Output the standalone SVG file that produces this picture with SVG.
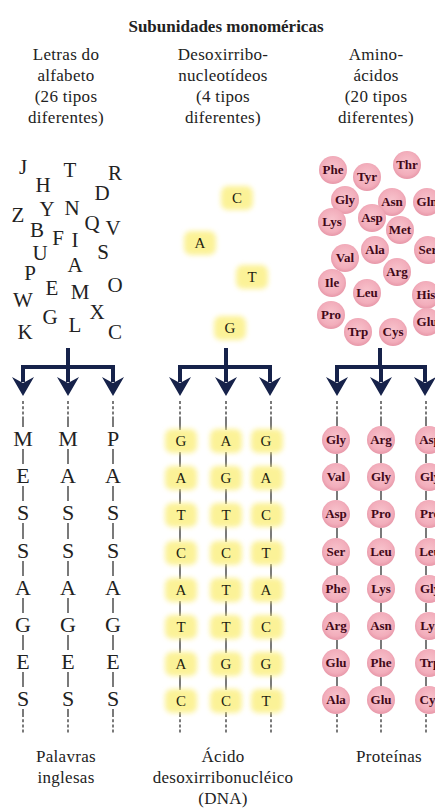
<svg xmlns="http://www.w3.org/2000/svg" width="435" height="808" viewBox="0 0 435 808">
  <style>
    .t { font-family: "Liberation Serif", "DejaVu Serif", serif; fill: #222; }
    .title { font-size: 17px; font-weight: bold; text-anchor: middle; }
    .hdr { font-size: 17px; text-anchor: middle; letter-spacing: 0.3px; }
    .big { font-size: 21px; text-anchor: middle; }
    .col { font-size: 22px; text-anchor: middle; }
    .nt { font-size: 15px; text-anchor: middle; fill: #1e1e10; }
    .aa { font-family: "Liberation Serif", "DejaVu Serif", serif; font-size: 13px; font-weight: bold; text-anchor: middle; fill: #420818; }
    .glow { fill: #fbef7e; opacity: 0.8; filter: url(#soft); }
    .bead { fill: url(#pink); }
    .link { stroke: #333; stroke-width: 1.3; fill: none; }
    .dash { stroke: #333; stroke-width: 1.3; fill: none; stroke-dasharray: 3 2.2; }
    .tree { stroke: #16224a; stroke-width: 4; fill: none; }
    .head { fill: #16224a; }
  </style>
  <defs>
    <filter id="soft" x="-40%" y="-40%" width="180%" height="180%">
      <feGaussianBlur stdDeviation="2.4"/>
    </filter>
    <radialGradient id="pink" cx="50%" cy="45%" r="55%">
      <stop offset="0" stop-color="#f8c4cd"/>
      <stop offset="0.75" stop-color="#f2adbb"/>
      <stop offset="1" stop-color="#e797a8"/>
    </radialGradient>
    <path id="arrowhead" d="M0,15 L-11,-4 L0,2 L11,-4 Z"/>
    <rect id="hl" x="-16" y="-12" width="32" height="24" rx="7"/>
  </defs>

  <rect width="435" height="808" fill="#ffffff"/>

  <!-- title -->
  <text class="t title" x="226" y="32">Subunidades monoméricas</text>

  <!-- column headings -->
  <g id="hdr-letras" class="t hdr">
    <text x="66" y="60">Letras do</text>
    <text x="66" y="81">alfabeto</text>
    <text x="66" y="102">(26 tipos</text>
    <text x="66" y="123">diferentes)</text>
  </g>
  <g id="hdr-nucleotideos" class="t hdr">
    <text x="223" y="60">Desoxirribo-</text>
    <text x="223" y="81">nucleotídeos</text>
    <text x="223" y="102">(4 tipos</text>
    <text x="223" y="123">diferentes)</text>
  </g>
  <g id="hdr-aminoacidos" class="t hdr">
    <text x="376" y="60">Amino-</text>
    <text x="376" y="81">ácidos</text>
    <text x="376" y="102">(20 tipos</text>
    <text x="376" y="123">diferentes)</text>
  </g>

  <!-- pool of letters -->
  <g id="letras-pool" class="t big">
    <text x="23" y="174">J</text>
    <text x="43" y="192">H</text>
    <text x="70" y="177">T</text>
    <text x="115" y="180">R</text>
    <text x="102" y="200">D</text>
    <text x="18" y="222">Z</text>
    <text x="47" y="216">Y</text>
    <text x="72" y="215">N</text>
    <text x="92" y="230">Q</text>
    <text x="113" y="235">V</text>
    <text x="37" y="237">B</text>
    <text x="58" y="245">F</text>
    <text x="75" y="247">I</text>
    <text x="40" y="260">U</text>
    <text x="103" y="259">S</text>
    <text x="75" y="272">A</text>
    <text x="30" y="280">P</text>
    <text x="52" y="295">E</text>
    <text x="80" y="299">M</text>
    <text x="115" y="292">O</text>
    <text x="23" y="307">W</text>
    <text x="97" y="319">X</text>
    <text x="50" y="324">G</text>
    <text x="75" y="332">L</text>
    <text x="25" y="339">K</text>
    <text x="115" y="339">C</text>
  </g>

  <!-- pool of nucleotides -->
  <g id="nucleotideos-pool">
    <use href="#hl" class="glow" x="237" y="198"/>
    <use href="#hl" class="glow" x="200" y="243"/>
    <use href="#hl" class="glow" x="252" y="277"/>
    <use href="#hl" class="glow" x="230" y="328"/>
    <g class="t nt">
      <text x="237" y="203">C</text>
      <text x="200" y="248">A</text>
      <text x="252" y="282">T</text>
      <text x="230" y="333">G</text>
    </g>
  </g>

  <!-- pool of amino acids -->
  <g id="aminoacidos-pool">
    <g class="bead">
      <circle cx="333" cy="170" r="14"/>
      <circle cx="367" cy="177" r="14"/>
      <circle cx="407" cy="165" r="14"/>
      <circle cx="345" cy="200" r="14"/>
      <circle cx="392" cy="202" r="14"/>
      <circle cx="427" cy="202" r="14"/>
      <circle cx="332" cy="222" r="14"/>
      <circle cx="372" cy="218" r="14"/>
      <circle cx="400" cy="230" r="14"/>
      <circle cx="375" cy="250" r="14"/>
      <circle cx="428" cy="250" r="14"/>
      <circle cx="345" cy="258" r="14"/>
      <circle cx="397" cy="272" r="14"/>
      <circle cx="332" cy="283" r="14"/>
      <circle cx="367" cy="293" r="14"/>
      <circle cx="426" cy="295" r="14"/>
      <circle cx="331" cy="315" r="14"/>
      <circle cx="358" cy="332" r="14"/>
      <circle cx="393" cy="332" r="14"/>
      <circle cx="427" cy="322" r="14"/>
    </g>
    <g class="aa">
      <text x="333" y="174">Phe</text>
      <text x="367" y="181">Tyr</text>
      <text x="407" y="169">Thr</text>
      <text x="345" y="204">Gly</text>
      <text x="392" y="206">Asn</text>
      <text x="427" y="206">Gln</text>
      <text x="332" y="226">Lys</text>
      <text x="372" y="222">Asp</text>
      <text x="400" y="234">Met</text>
      <text x="375" y="254">Ala</text>
      <text x="428" y="254">Ser</text>
      <text x="345" y="262">Val</text>
      <text x="397" y="276">Arg</text>
      <text x="332" y="287">Ile</text>
      <text x="367" y="297">Leu</text>
      <text x="426" y="299">His</text>
      <text x="331" y="319">Pro</text>
      <text x="358" y="336">Trp</text>
      <text x="393" y="336">Cys</text>
      <text x="427" y="326">Glu</text>
    </g>
  </g>

  <!-- branching arrows and chain links -->
  <g id="connectors">
    <path class="tree" d="M68,348 V367 M21,367 H115 M23,367 V382 M68,367 V382 M113,367 V382"/>
    <path class="tree" d="M226,348 V367 M178,367 H272 M180,367 V382 M226,367 V382 M270,367 V382"/>
    <path class="tree" d="M380,348 V367 M335,367 H427 M337,367 V382 M381,367 V382 M425,367 V382"/>
    <g class="head">
      <use href="#arrowhead" x="23" y="381"/>
      <use href="#arrowhead" x="68" y="381"/>
      <use href="#arrowhead" x="113" y="381"/>
      <use href="#arrowhead" x="180" y="381"/>
      <use href="#arrowhead" x="226" y="381"/>
      <use href="#arrowhead" x="270" y="381"/>
      <use href="#arrowhead" x="337" y="381"/>
      <use href="#arrowhead" x="381" y="381"/>
      <use href="#arrowhead" x="425" y="381"/>
    </g>
    <!-- open ends above and below each chain -->
    <path class="dash" d="M23,401 V418 M68,401 V418 M113,401 V418 M180,401 V418 M226,401 V418 M271,401 V418 M337,401 V418 M381,401 V418 M426,401 V418"/>
    <path class="dash" d="M23,714 V734 M68,714 V734 M113,714 V734 M180,714 V734 M226,714 V734 M271,714 V734 M337,714 V734 M381,714 V734 M426,714 V734"/>
    <!-- word chains -->
    <path class="link" d="M23,418 V427 M23,449 V464 M23,486 V501 M23,523 V539 M23,561 V576 M23,598 V613 M23,635 V650 M23,672 V687 M23,709 V714"/>
    <path class="link" d="M68,418 V427 M68,449 V464 M68,486 V501 M68,523 V539 M68,561 V576 M68,598 V613 M68,635 V650 M68,672 V687 M68,709 V714"/>
    <path class="link" d="M113,418 V427 M113,449 V464 M113,486 V501 M113,523 V539 M113,561 V576 M113,598 V613 M113,635 V650 M113,672 V687 M113,709 V714"/>
    <!-- DNA strands -->
    <path class="link" d="M180,418 V430 M180,452 V467 M180,489 V504 M180,526 V542 M180,564 V579 M180,601 V616 M180,638 V653 M180,675 V690 M180,712 V714"/>
    <path class="link" d="M226,418 V430 M226,452 V467 M226,489 V504 M226,526 V542 M226,564 V579 M226,601 V616 M226,638 V653 M226,675 V690 M226,712 V714"/>
    <path class="link" d="M271,418 V430 M271,452 V467 M271,489 V504 M271,526 V542 M271,564 V579 M271,601 V616 M271,638 V653 M271,675 V690 M271,712 V714"/>
    <!-- protein chains -->
    <path class="link" d="M337,418 V426 M337,454 V463 M337,491 V500 M337,528 V538 M337,566 V575 M337,603 V612 M337,640 V649 M337,677 V686"/>
    <path class="link" d="M381,418 V426 M381,454 V463 M381,491 V500 M381,528 V538 M381,566 V575 M381,603 V612 M381,640 V649 M381,677 V686"/>
    <path class="link" d="M426,418 V426 M426,454 V463 M426,491 V500 M426,528 V538 M426,566 V575 M426,603 V612 M426,640 V649 M426,677 V686"/>
  </g>

  <!-- English words -->
  <g id="palavras" class="t col">
    <text x="23" y="446">M</text><text x="68" y="446">M</text><text x="113" y="446">P</text>
    <text x="23" y="483">E</text><text x="68" y="483">A</text><text x="113" y="483">A</text>
    <text x="23" y="520">S</text><text x="68" y="520">S</text><text x="113" y="520">S</text>
    <text x="23" y="558">S</text><text x="68" y="558">S</text><text x="113" y="558">S</text>
    <text x="23" y="595">A</text><text x="68" y="595">A</text><text x="113" y="595">A</text>
    <text x="23" y="632">G</text><text x="68" y="632">G</text><text x="113" y="632">G</text>
    <text x="23" y="669">E</text><text x="68" y="669">E</text><text x="113" y="669">E</text>
    <text x="23" y="706">S</text><text x="68" y="706">S</text><text x="113" y="706">S</text>
  </g>

  <!-- DNA -->
  <g id="dna">
    <g class="glow">
      <use href="#hl" x="181" y="441"/><use href="#hl" x="226" y="441"/><use href="#hl" x="267" y="441"/>
      <use href="#hl" x="181" y="478"/><use href="#hl" x="226" y="478"/><use href="#hl" x="267" y="478"/>
      <use href="#hl" x="181" y="515"/><use href="#hl" x="226" y="515"/><use href="#hl" x="267" y="515"/>
      <use href="#hl" x="181" y="553"/><use href="#hl" x="226" y="553"/><use href="#hl" x="267" y="553"/>
      <use href="#hl" x="181" y="590"/><use href="#hl" x="226" y="590"/><use href="#hl" x="267" y="590"/>
      <use href="#hl" x="181" y="627"/><use href="#hl" x="226" y="627"/><use href="#hl" x="267" y="627"/>
      <use href="#hl" x="181" y="664"/><use href="#hl" x="226" y="664"/><use href="#hl" x="267" y="664"/>
      <use href="#hl" x="181" y="701"/><use href="#hl" x="226" y="701"/><use href="#hl" x="267" y="701"/>
    </g>
    <g class="t nt">
      <text x="181" y="446">G</text><text x="226" y="446">A</text><text x="266" y="446">G</text>
      <text x="181" y="483">A</text><text x="226" y="483">G</text><text x="266" y="483">A</text>
      <text x="181" y="520">T</text><text x="226" y="520">T</text><text x="266" y="520">C</text>
      <text x="181" y="558">C</text><text x="226" y="558">C</text><text x="266" y="558">T</text>
      <text x="181" y="595">A</text><text x="226" y="595">T</text><text x="266" y="595">A</text>
      <text x="181" y="632">T</text><text x="226" y="632">T</text><text x="266" y="632">C</text>
      <text x="181" y="669">A</text><text x="226" y="669">G</text><text x="266" y="669">G</text>
      <text x="181" y="706">C</text><text x="226" y="706">C</text><text x="266" y="706">T</text>
    </g>
  </g>

  <!-- proteins -->
  <g id="proteinas">
    <g class="bead">
      <circle cx="336" cy="440" r="14"/><circle cx="381" cy="440" r="14"/><circle cx="429" cy="440" r="14"/>
      <circle cx="336" cy="477" r="14"/><circle cx="381" cy="477" r="14"/><circle cx="429" cy="477" r="14"/>
      <circle cx="336" cy="514" r="14"/><circle cx="381" cy="514" r="14"/><circle cx="429" cy="514" r="14"/>
      <circle cx="336" cy="552" r="14"/><circle cx="381" cy="552" r="14"/><circle cx="429" cy="552" r="14"/>
      <circle cx="336" cy="589" r="14"/><circle cx="381" cy="589" r="14"/><circle cx="429" cy="589" r="14"/>
      <circle cx="336" cy="626" r="14"/><circle cx="381" cy="626" r="14"/><circle cx="429" cy="626" r="14"/>
      <circle cx="336" cy="663" r="14"/><circle cx="381" cy="663" r="14"/><circle cx="429" cy="663" r="14"/>
      <circle cx="336" cy="700" r="14"/><circle cx="381" cy="700" r="14"/><circle cx="429" cy="700" r="14"/>
    </g>
    <g class="aa">
      <text x="336" y="444">Gly</text><text x="381" y="444">Arg</text><text x="430" y="444">Asp</text>
      <text x="336" y="481">Val</text><text x="381" y="481">Gly</text><text x="430" y="481">Gly</text>
      <text x="336" y="518">Asp</text><text x="381" y="518">Pro</text><text x="430" y="518">Pro</text>
      <text x="336" y="556">Ser</text><text x="381" y="556">Leu</text><text x="430" y="556">Leu</text>
      <text x="336" y="593">Phe</text><text x="381" y="593">Lys</text><text x="430" y="593">Gly</text>
      <text x="336" y="630">Arg</text><text x="381" y="630">Asn</text><text x="430" y="630">Lys</text>
      <text x="336" y="667">Glu</text><text x="381" y="667">Phe</text><text x="430" y="667">Trp</text>
      <text x="336" y="704">Ala</text><text x="381" y="704">Glu</text><text x="430" y="704">Cys</text>
    </g>
  </g>

  <!-- captions -->
  <g id="cap-palavras" class="t hdr">
    <text x="66" y="762">Palavras</text>
    <text x="66" y="783">inglesas</text>
  </g>
  <g id="cap-dna" class="t hdr">
    <text x="223" y="762">Ácido</text>
    <text x="223" y="783">desoxirribonucléico</text>
    <text x="223" y="804">(DNA)</text>
  </g>
  <g id="cap-proteinas" class="t hdr">
    <text x="389" y="762">Proteínas</text>
  </g>
</svg>
